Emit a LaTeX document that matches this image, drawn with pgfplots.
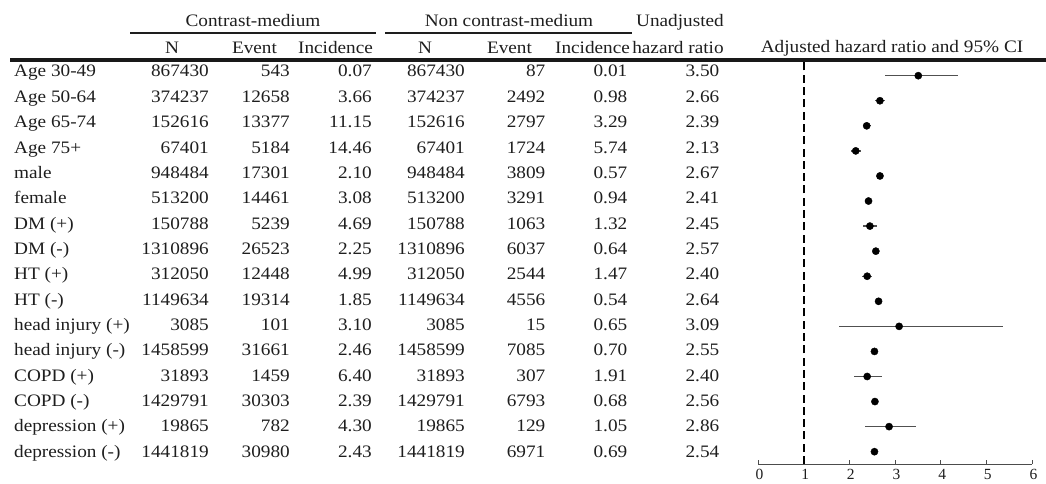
\documentclass[border=0pt]{standalone}
\usepackage{fontspec}
\setmainfont{Liberation Serif}[FakeStretch=1.10]
\newfontfamily\tickfont{Liberation Serif}
\usepackage{pgfplots}
\usepackage{pgfplotstable}
\pgfplotsset{compat=1.18}
\definecolor{txt}{RGB}{30,30,30}
\definecolor{cigray}{RGB}{80,80,80}

% row y (17 - row index), adjusted HR, lower and upper 95% CI
\pgfplotstableread{
y  hr    lo    hi
16 3.51  2.78  4.39
15 2.67  2.56  2.79
14 2.38  2.30  2.47
13 2.14  2.03  2.26
12 2.67  2.60  2.74
11 2.42  2.34  2.50
10 2.45  2.29  2.61
9  2.58  2.52  2.64
8  2.39  2.27  2.50
7  2.64  2.58  2.70
6  3.09  1.78  5.37
5  2.55  2.50  2.60
4  2.39  2.11  2.72
3  2.56  2.51  2.61
2  2.87  2.35  3.45
1  2.55  2.50  2.60
}\forestdata

\begin{document}
\begin{tikzpicture}
\useasboundingbox (0pt,0pt) rectangle (1046pt,-484pt);

\begin{axis}[
  at={(758pt,-464pt)}, anchor=south west,
  width=274pt, height=402pt, scale only axis,
  xmin=0, xmax=6, ymin=0.509, ymax=16.546,
  axis x line=bottom, axis y line=none,
  x axis line style={-, draw=black!70, line width=1pt},
  xtick={0,1,2,3,4,5,6},
  xtick align=inside, major tick length=4.5pt,
  xtick style={draw=black!70, line width=1pt},
  xticklabel style={font=\tickfont\fontsize{15.5}{16}\selectfont, text=txt, yshift=-1.5pt, xshift=1.5pt},
  /pgf/number format/assume math mode=true,
  clip=false,
]
\addplot[black, line width=2pt, dash pattern=on 8pt off 4.3pt, forget plot]
  coordinates {(1,0.509) (1,16.546)};
\addplot[only marks, mark=*, mark size=3.6pt, black,
  error bars/.cd, x dir=both, x explicit, error mark=none,
  error bar style={cigray, line width=1.3pt}]
  table[x=hr, y=y,
        x error plus expr=\thisrow{hi}-\thisrow{hr},
        x error minus expr=\thisrow{hr}-\thisrow{lo}] {\forestdata};
\end{axis}

\begin{scope}[x=1pt, y=-1pt, every node/.style={inner sep=0pt, text=txt,
   font=\fontsize{17.5}{20}\selectfont}]
  % header lines
  \draw[txt, line width=1.3pt] (130,33) -- (376,33);
  \draw[txt, line width=1.3pt] (385,33) -- (632,33);
  \draw[black!90, line width=3.2pt] (10,60) -- (1046,60);
  % header row 1
  \node[anchor=base] at (253,27) {Contrast-medium};
  \node[anchor=base] at (509,27) {Non contrast-medium};
  \node[anchor=base] at (680,27) {Unadjusted};
  % header row 2
  \node[anchor=base] at (172,53.5) {N};
  \node[anchor=base] at (254.5,53.5) {Event};
  \node[anchor=base] at (335.5,53.5) {Incidence};
  \node[anchor=base] at (425,53.5) {N};
  \node[anchor=base] at (509.5,53.5) {Event};
  \node[anchor=base] at (592.5,53.5) {Incidence};
  \node[anchor=base] at (678,53.5) {hazard ratio};
  \node[anchor=base] at (892,52.7) {Adjusted hazard ratio and 95\% CI};
  % body
  \foreach \lab/\na/\ea/\ia/\nb/\eb/\ib/\hr [count=\i] in {
    Age 30-49/867430/543/0.07/867430/87/0.01/3.50,
    Age 50-64/374237/12658/3.66/374237/2492/0.98/2.66,
    Age 65-74/152616/13377/11.15/152616/2797/3.29/2.39,
    Age 75+/67401/5184/14.46/67401/1724/5.74/2.13,
    male/948484/17301/2.10/948484/3809/0.57/2.67,
    female/513200/14461/3.08/513200/3291/0.94/2.41,
    DM (+)/150788/5239/4.69/150788/1063/1.32/2.45,
    DM (-)/1310896/26523/2.25/1310896/6037/0.64/2.57,
    HT (+)/312050/12448/4.99/312050/2544/1.47/2.40,
    HT (-)/1149634/19314/1.85/1149634/4556/0.54/2.64,
    head injury (+)/3085/101/3.10/3085/15/0.65/3.09,
    head injury (-)/1458599/31661/2.46/1458599/7085/0.70/2.55,
    COPD (+)/31893/1459/6.40/31893/307/1.91/2.40,
    COPD (-)/1429791/30303/2.39/1429791/6793/0.68/2.56,
    depression (+)/19865/782/4.30/19865/129/1.05/2.86,
    depression (-)/1441819/30980/2.43/1441819/6971/0.69/2.54} {
    \pgfmathsetmacro{\yy}{77+25.35*(\i-1)}
    \node[anchor=base west] at (14,\yy) {\lab};
    \node[anchor=base east] at (209,\yy) {\na};
    \node[anchor=base east] at (290,\yy) {\ea};
    \node[anchor=base east] at (372,\yy) {\ia};
    \node[anchor=base east] at (465,\yy) {\nb};
    \node[anchor=base east] at (545.5,\yy) {\eb};
    \node[anchor=base east] at (627.5,\yy) {\ib};
    \node[anchor=base east] at (719.5,\yy) {\hr};
  }
\end{scope}
\end{tikzpicture}
\end{document}
